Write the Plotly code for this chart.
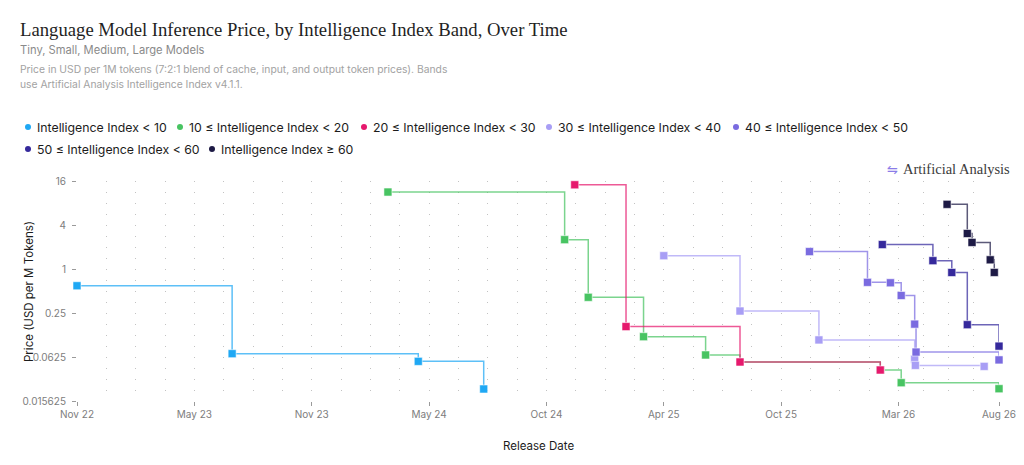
import plotly.graph_objects as go
import pandas as pd

# ---------------- data ----------------
band_names = [
    "Intelligence Index < 10",
    "10 ≤ Intelligence Index < 20",
    "20 ≤ Intelligence Index < 30",
    "30 ≤ Intelligence Index < 40",
    "40 ≤ Intelligence Index < 50",
    "50 ≤ Intelligence Index < 60",
    "Intelligence Index ≥ 60",
]
band_colors = ["#1fa8f4", "#48c462", "#e6196d", "#a89ef5", "#7a6be0", "#35299c", "#1d1a45"]

dates_lt10 = ["2022-11-27", "2023-07-15", "2024-04-16", "2024-07-22"]
price_lt10 = [0.59, 0.0694, 0.0545, 0.0228]

dates_10_20 = ["2024-03-02", "2024-11-19", "2024-12-24", "2025-03-16", "2025-06-16",
               "2025-08-06", "2026-03-02", "2026-04-02", "2026-08-25"]
price_10_20 = [11.3, 2.52, 0.41, 0.1185, 0.0666, 0.0534, 0.0415, 0.0278, 0.0230]

dates_20_30 = ["2024-12-04", "2025-02-18", "2025-08-06", "2026-03-02"]
price_20_30 = [14.2, 0.163, 0.0534, 0.0415]

dates_30_40 = ["2025-04-15", "2025-08-06", "2025-12-01", "2026-04-22", "2026-04-23", "2026-08-03"]
price_30_40 = [1.52, 0.266, 0.107, 0.0583, 0.048, 0.0465]

dates_40_50 = ["2025-11-17", "2026-02-11", "2026-03-17", "2026-04-02", "2026-04-22",
               "2026-04-24", "2026-08-25"]
price_40_50 = [1.73, 0.657, 0.648, 0.434, 0.176, 0.073, 0.057]

dates_50_60 = ["2026-03-05", "2026-05-19", "2026-06-16", "2026-07-09", "2026-08-25"]
price_50_60 = [2.16, 1.30, 0.896, 0.173, 0.088]

dates_ge60 = ["2026-06-09", "2026-07-09", "2026-07-16", "2026-08-12", "2026-08-18"]
price_ge60 = [7.67, 3.06, 2.31, 1.336, 0.897]

band_dates = [dates_lt10, dates_10_20, dates_20_30, dates_30_40, dates_40_50, dates_50_60, dates_ge60]
band_prices = [price_lt10, price_10_20, price_20_30, price_30_40, price_40_50, price_50_60, price_ge60]

x_tick_dates = ["2022-11-27", "2023-05-20", "2023-11-10", "2024-05-02", "2024-10-23",
                "2025-04-15", "2025-10-06", "2026-03-29", "2026-08-25"]
x_tick_labels = ["Nov 22", "May 23", "Nov 23", "May 24", "Oct 24", "Apr 25", "Oct 25", "Mar 26", "Aug 26"]

y_tick_vals = [0.015625, 0.0625, 0.25, 1, 4, 16]
y_tick_labels = ["0.015625", "0.0625", "0.25", "1", "4", "16"]

# ---------------- layout helpers ----------------
# The page body has an 8px margin, so the figure is drawn 8px in from the window edge.
OFF = 8
WIN_W, WIN_H = 1024, 465
W, H = WIN_W - OFF, WIN_H - OFF
PL, PR, PT, PB = 77, 999, 181, 401          # plot area in window pixels
ML, MT = PL - OFF, PT - OFF
MR, MB = WIN_W - PR - OFF + OFF - OFF, 0    # placeholder, recomputed below
MR = W - (PR - OFF)
MB = H - (PB - OFF)
PW, PH = PR - PL, PB - PT


def px_x(px):
    return (px - PL) / PW


def px_y(py):
    return (PB - py) / PH


def rgba(hexc, a):
    h = hexc.lstrip("#")
    r, g, b = int(h[0:2], 16), int(h[2:4], 16), int(h[4:6], 16)
    return f"rgba({r},{g},{b},{a})"


# minor grid: quarter points between consecutive major ticks
tick_ts = [pd.Timestamp(d) for d in x_tick_dates]
minor_vals = []
for a, b in zip(tick_ts[:-1], tick_ts[1:]):
    for k in (1, 2, 3):
        minor_vals.append((a + (b - a) * k / 4).strftime("%Y-%m-%d %H:%M"))

SANS = "Inter, 'Noto Sans', sans-serif"
SERIF = "'Liberation Serif', 'DejaVu Serif', serif"

fig = go.Figure()

for name, color, xs, ys in zip(band_names, band_colors, band_dates, band_prices):
    fig.add_trace(go.Scatter(
        x=xs, y=ys, name=name, mode="lines+markers",
        line=dict(shape="hv", color=rgba(color, 0.72), width=1.5),
        marker=dict(symbol="square", size=8, color=color,
                    line=dict(width=1, color="rgba(255,255,255,0.55)")),
        cliponaxis=False, showlegend=False,
    ))

grid_color = "#c2c2c2"
fig.update_xaxes(
    type="date",
    range=[x_tick_dates[0], x_tick_dates[-1]],
    tickmode="array", tickvals=x_tick_dates, ticktext=x_tick_labels,
    ticks="outside", ticklen=4, tickwidth=1, tickcolor="#9a9a9a",
    tickfont=dict(family=SANS, size=10, color="#7d7d7d"),
    showgrid=True, gridcolor=grid_color, gridwidth=1, griddash="1px,10px",
    minor=dict(tickmode="array", tickvals=minor_vals, showgrid=True,
               gridcolor=grid_color, gridwidth=1, griddash="1px,10px", ticks=""),
    showline=False, zeroline=False, fixedrange=True,
)
fig.update_yaxes(
    type="log",
    range=[-1.806179974, 1.204119983],
    tickmode="array", tickvals=y_tick_vals, ticktext=y_tick_labels,
    ticks="outside", ticklen=4, tickwidth=1, tickcolor="#9a9a9a",
    ticklabelstandoff=4,
    tickfont=dict(family=SANS, size=10, color="#7d7d7d"),
    showgrid=False, showline=False, zeroline=False, fixedrange=True,
)

annotations = []
shapes = []

# Title block
annotations.append(dict(
    text="Language Model Inference Price, by Intelligence Index Band, Over Time",
    x=px_x(18), y=px_y(29), xref="paper", yref="paper", xanchor="left", yanchor="middle",
    showarrow=False, font=dict(family=SERIF, size=18.7, color="#1f1f1f")))
annotations.append(dict(
    text="Tiny, Small, Medium, Large Models",
    x=px_x(18), y=px_y(50), xref="paper", yref="paper", xanchor="left", yanchor="middle",
    showarrow=False, font=dict(family=SANS, size=11.2, color="#8a8a8a")))
annotations.append(dict(
    text="Price in USD per 1M tokens (7:2:1 blend of cache, input, and output token prices). Bands",
    x=px_x(18), y=px_y(69), xref="paper", yref="paper", xanchor="left", yanchor="middle",
    showarrow=False, font=dict(family=SANS, size=10.3, color="#a2a2a2")))
annotations.append(dict(
    text="use Artificial Analysis Intelligence Index v4.1.1.",
    x=px_x(18), y=px_y(84), xref="paper", yref="paper", xanchor="left", yanchor="middle",
    showarrow=False, font=dict(family=SANS, size=10.3, color="#a2a2a2")))

# Legend (circle + label)
legend_pos = [(28, 127), (180, 127), (364, 127), (549, 127), (736, 127), (28, 149), (212, 149)]
for name, color, (cx, cy) in zip(band_names, band_colors, legend_pos):
    shapes.append(dict(
        type="circle", xref="paper", yref="paper", xsizemode="pixel", ysizemode="pixel",
        xanchor=px_x(cx), yanchor=px_y(cy), x0=-3, x1=3, y0=-3, y1=3,
        fillcolor=color, line=dict(width=0)))
    annotations.append(dict(
        text=name, x=px_x(cx + 7), y=px_y(cy), xref="paper", yref="paper",
        xanchor="left", yanchor="middle", showarrow=False,
        font=dict(family=SANS, size=12.3, color="#1c1c1c")))

# Axis titles
annotations.append(dict(
    text="Price (USD per M Tokens)", x=px_x(29), y=px_y(292), xref="paper", yref="paper",
    xanchor="center", yanchor="middle", textangle=-90, showarrow=False,
    font=dict(family=SANS, size=11.5, color="#1c1c1c")))
annotations.append(dict(
    text="Release Date", x=px_x(538), y=px_y(446), xref="paper", yref="paper",
    xanchor="center", yanchor="middle", showarrow=False,
    font=dict(family=SANS, size=11.5, color="#1c1c1c")))

# Watermark
annotations.append(dict(
    text="⇋", x=px_x(892), y=px_y(169), xref="paper", yref="paper",
    xanchor="center", yanchor="middle", showarrow=False,
    font=dict(family="DejaVu Sans", size=13, color="#8b7ce8")))
annotations.append(dict(
    text="Artificial Analysis", x=px_x(901), y=px_y(169), xref="paper", yref="paper",
    xanchor="left", yanchor="middle", showarrow=False,
    font=dict(family=SERIF, size=14.5, color="#3a3a3a")))

fig.update_layout(
    width=W, height=H,
    margin=dict(l=ML, r=MR, t=MT, b=MB, autoexpand=False),
    paper_bgcolor="white", plot_bgcolor="white",
    showlegend=False,
    annotations=annotations, shapes=shapes,
    font=dict(family=SANS),
)

fig.write_html("out.html")
